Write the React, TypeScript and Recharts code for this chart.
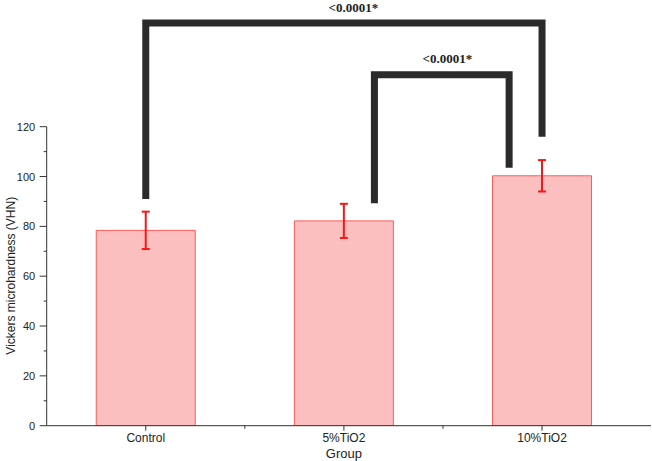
import React from 'react';
import {
  ComposedChart, Bar, ErrorBar, XAxis, YAxis, Line, ReferenceLine, ReferenceDot, Label,
} from 'recharts';

// ---- data ----
const groups = ['Control', '5%TiO2', '10%TiO2'];
const means = [78.4, 82.2, 100.3];
const sds = [7.5, 6.85, 6.3];

const yTicks = [0, 10, 20, 30, 40, 50, 60, 70, 80, 90, 100, 110, 120];
const xTicks = [0.5, 1, 1.5, 2, 2.5];

// significance brackets (x in group units, y in VHN)
const bracketBigX = [0.5, 0.5, 2.5, 2.5];
const bracketBigY = [91.0, 161.6, 161.6, 116.0];
const bracketSmallX = [1.654, 1.654, 2.334, 2.334];
const bracketSmallY = [89.3, 140.9, 140.9, 103.5];
const sigLabels = ['<0.0001*', '<0.0001*'];
const sigLabelX = [1.548, 2.022];
const sigLabelY = [167.8, 147.4];

const data = groups.map((g, i) => ({ x: i + 0.5, name: g, mean: means[i], err: sds[i] }));
const bigBracket = bracketBigX.map((x, i) => ({ x, y: bracketBigY[i] }));
const smallBracket = bracketSmallX.map((x, i) => ({ x, y: bracketSmallY[i] }));

const AXIS = '#333333';
const FONT = 'Arial, "Liberation Sans", sans-serif';

const YTick = (props: any) => {
  const { x, y, payload } = props;
  const v = payload.value;
  const major = v % 20 === 0;
  return (
    <g>
      <line x1={x - (major ? 7 : 3)} x2={x} y1={y} y2={y} stroke={AXIS} strokeWidth={1} />
      {major && (
        <text x={x - 11.5} y={y} dy={4} textAnchor="end" fontSize={11} fill="#222" fontFamily={FONT}>
          {v}
        </text>
      )}
    </g>
  );
};

const XTick = (props: any) => {
  const { x, y, payload } = props;
  const idx = payload.value - 0.5;
  const major = Number.isInteger(idx);
  return (
    <g>
      <line x1={x} x2={x} y1={y} y2={y + (major ? 5 : 3)} stroke={AXIS} strokeWidth={1} />
      {major && (
        <text x={x} y={y + 16} textAnchor="middle" fontSize={12} fill="#222" fontFamily={FONT}>
          {groups[idx]}
        </text>
      )}
    </g>
  );
};

export default function App() {
  return (
    <div style={{ position: 'absolute', left: 0, top: 0, background: '#fff' }}>
      <ComposedChart
        width={652}
        height={461}
        data={data}
        margin={{ top: 0, right: 1, bottom: 0, left: 0 }}
        barCategoryGap="25%"
      >
        <XAxis
          dataKey="x"
          type="number"
          domain={[0, 3.05]}
          allowDataOverflow
          ticks={xTicks}
          interval={0}
          tick={<XTick />}
          tickLine={false}
          tickSize={0}
          tickMargin={0}
          axisLine={{ stroke: AXIS, strokeWidth: 1 }}
          height={35.3}
        >
          <Label value="Group" position="insideBottom" offset={3} dx={-5} fontSize={13} fill="#222" fontFamily={FONT} />
        </XAxis>
        <XAxis xAxisId="ann" dataKey="x" type="number" domain={[0, 3.05]} allowDataOverflow hide />
        <YAxis
          type="number"
          domain={[0, 170.85]}
          allowDataOverflow
          ticks={yTicks}
          interval={0}
          tick={<YTick />}
          tickLine={false}
          tickSize={0}
          tickMargin={0}
          axisLine={false}
          width={46.7}
        >
          <Label
            value="Vickers microhardness (VHN)"
            angle={-90}
            position="center"
            dx={-12.3}
            dy={62.9}
            fontSize={12}
            fill="#222"
            fontFamily={FONT}
          />
        </YAxis>
        <ReferenceLine
          segment={[{ x: 0, y: 0 }, { x: 0, y: 120 }]}
          stroke={AXIS}
          strokeWidth={1}
          ifOverflow="visible"
        />
        <Bar dataKey="mean" fill="#fcbfbf" stroke="#ff5a5a" strokeWidth={1} isAnimationActive={false}>
          <ErrorBar dataKey="err" width={4} strokeWidth={2} stroke="#ff1414" direction="y" />
        </Bar>
        <Line
          xAxisId="ann"
          data={bigBracket}
          dataKey="y"
          type="linear"
          stroke="#2b2b2b"
          strokeWidth={7}
          strokeLinejoin="miter"
          strokeLinecap="butt"
          dot={false}
          activeDot={false}
          isAnimationActive={false}
        />
        <Line
          xAxisId="ann"
          data={smallBracket}
          dataKey="y"
          type="linear"
          stroke="#2b2b2b"
          strokeWidth={7}
          strokeLinejoin="miter"
          strokeLinecap="butt"
          dot={false}
          activeDot={false}
          isAnimationActive={false}
        />
        {sigLabels.map((t, i) => (
          <ReferenceDot
            key={i}
            xAxisId="ann"
            x={sigLabelX[i]}
            y={sigLabelY[i]}
            r={1}
            fill="none"
            stroke="none"
            ifOverflow="visible"
          >
            <Label
              value={t}
              position="center"
              fontSize={13}
              fontWeight="bold"
              fill="#222"
              fontFamily='"Liberation Serif", "Times New Roman", serif'
            />
          </ReferenceDot>
        ))}
      </ComposedChart>
    </div>
  );
}
